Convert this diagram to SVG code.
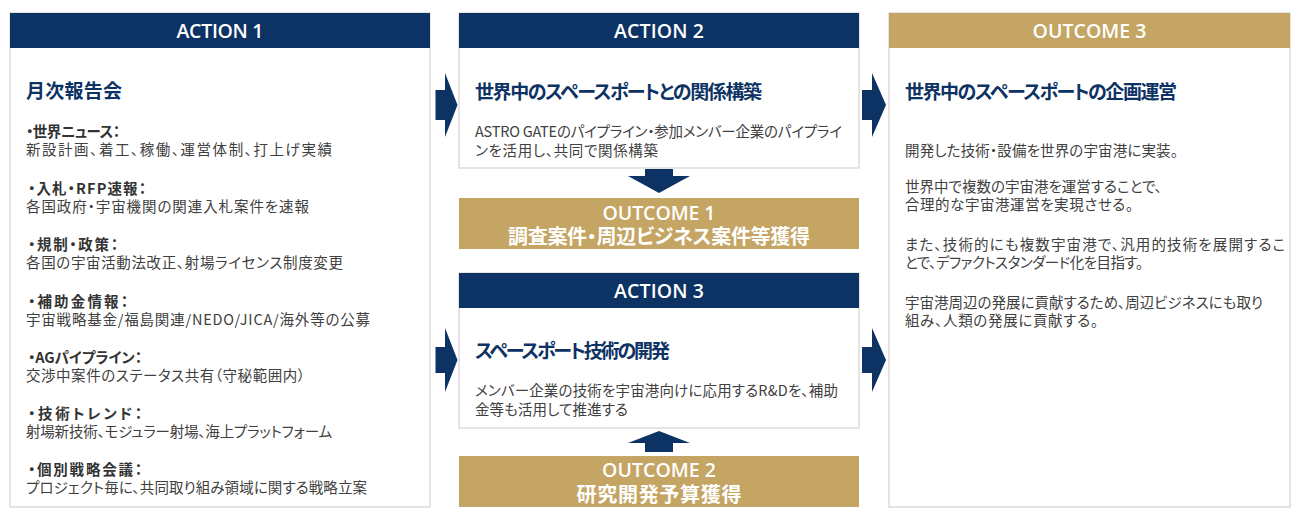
<svg xmlns="http://www.w3.org/2000/svg" width="1300" height="518" viewBox="0 0 1300 518">
<style>
.bg{fill:#ffffff}
.body{fill:#ffffff;stroke:#d2d2d2;stroke-width:1.2}
.navy{fill:#0d3264}
.gold{fill:#c4a563}
.hdr{font-family:"Open Sans","Noto Sans CJK JP",sans-serif;font-size:19.5px;font-weight:600;fill:#ffffff;text-anchor:middle}
.oc2{font-family:"Noto Sans CJK JP",sans-serif;font-size:20px;font-weight:700;fill:#ffffff;text-anchor:middle;font-feature-settings:"palt"}
.ttl{font-family:"Noto Sans CJK JP",sans-serif;font-size:19px;font-weight:700;fill:#0d3264;font-feature-settings:"palt"}
.bh{font-family:"Noto Sans CJK JP",sans-serif;font-size:14.5px;font-weight:700;fill:#333333;font-feature-settings:"palt"}
.tx{font-family:"Noto Sans CJK JP",sans-serif;font-size:14.5px;font-weight:400;fill:#404040;font-feature-settings:"palt"}
.arrow{fill:#0d3264}
</style>
<rect class="bg" x="0" y="0" width="1300" height="518"/>

<g id="action1">
<rect class="body" x="10" y="13" width="420" height="494"/>
<rect class="navy" x="10" y="13" width="420" height="35"/>
<text class="hdr" x="220" y="37.5" textLength="87">ACTION 1</text>
<text class="ttl" x="26" y="98" textLength="96">月次報告会</text>
<text class="bh" x="26" y="137" textLength="94">・世界ニュース：</text>
<text class="tx" x="26" y="155" textLength="306">新設計画、着工、稼働、運営体制、打上げ実績</text>
<text class="bh" x="28" y="193.5" textLength="118">・入札・RFP速報：</text>
<text class="tx" x="26" y="211.5" textLength="283">各国政府・宇宙機関の関連入札案件を速報</text>
<text class="bh" x="28" y="250" textLength="90">・規制・政策：</text>
<text class="tx" x="26" y="268" textLength="317">各国の宇宙活動法改正、射場ライセンス制度変更</text>
<text class="bh" x="28" y="306.5" textLength="100">・補助金情報：</text>
<text class="tx" x="26" y="324.5" textLength="344">宇宙戦略基金/福島関連/NEDO/JICA/海外等の公募</text>
<text class="bh" x="28" y="363" textLength="114">・AGパイプライン：</text>
<text class="tx" x="26" y="381" textLength="279">交渉中案件のステータス共有（守秘範囲内）</text>
<text class="bh" x="28" y="419" textLength="114">・技術トレンド：</text>
<text class="tx" x="26" y="437" textLength="306">射場新技術、モジュラー射場、海上プラットフォーム</text>
<text class="bh" x="28" y="475" textLength="114">・個別戦略会議：</text>
<text class="tx" x="26" y="493" textLength="341">プロジェクト毎に、共同取り組み領域に関する戦略立案</text>
</g>

<g id="action2">
<rect class="body" x="459" y="13" width="400" height="155"/>
<rect class="navy" x="459" y="13" width="400" height="35"/>
<text class="hdr" x="659" y="37.5" textLength="90">ACTION 2</text>
<text class="ttl" x="475" y="99" textLength="287">世界中のスペースポートとの関係構築</text>
<text class="tx" x="475" y="137" textLength="367">ASTRO GATEのパイプライン・参加メンバー企業のパイプライ</text>
<text class="tx" x="475" y="156" textLength="183">ンを活用し、共同で関係構築</text>
</g>

<g id="outcome1">
<rect class="gold" x="459" y="198" width="400" height="51"/>
<text class="hdr" x="659" y="219.5" textLength="113">OUTCOME 1</text>
<text class="oc2" x="659" y="244" textLength="302">調査案件・周辺ビジネス案件等獲得</text>
</g>

<g id="action3">
<rect class="body" x="459" y="273" width="400" height="155"/>
<rect class="navy" x="459" y="273" width="400" height="35"/>
<text class="hdr" x="659" y="297.5" textLength="90">ACTION 3</text>
<text class="ttl" x="475" y="358" textLength="195">スペースポート技術の開発</text>
<text class="tx" x="475" y="396" textLength="363">メンバー企業の技術を宇宙港向けに応用するR&amp;Dを、補助</text>
<text class="tx" x="475" y="415" textLength="153">金等も活用して推進する</text>
</g>

<g id="outcome2">
<rect class="gold" x="459" y="456" width="400" height="51"/>
<text class="hdr" x="659" y="476.5" textLength="114">OUTCOME 2</text>
<text class="oc2" x="659" y="501.5" textLength="165">研究開発予算獲得</text>
</g>

<g id="outcome3">
<rect class="body" x="889" y="13" width="401" height="494"/>
<rect class="gold" x="889" y="13" width="401" height="35"/>
<text class="hdr" x="1089.5" y="37.5" textLength="114">OUTCOME 3</text>
<text class="ttl" x="905" y="99" textLength="272">世界中のスペースポートの企画運営</text>
<text class="tx" x="905" y="156" textLength="273">開発した技術・設備を世界の宇宙港に実装。</text>
<text class="tx" x="905" y="192" textLength="257">世界中で複数の宇宙港を運営することで、</text>
<text class="tx" x="905" y="210" textLength="228">合理的な宇宙港運営を実現させる。</text>
<text class="tx" x="905" y="250" textLength="380">また、技術的にも複数宇宙港で、汎用的技術を展開するこ</text>
<text class="tx" x="905" y="268" textLength="238">とで、デファクトスタンダード化を目指す。</text>
<text class="tx" x="905" y="308" textLength="358">宇宙港周辺の発展に貢献するため、周辺ビジネスにも取り</text>
<text class="tx" x="905" y="326" textLength="193">組み、人類の発展に貢献する。</text>
</g>

<g id="connectors">
<path class="arrow" d="M435.5,90 H445 V73 L457.5,105 L445,137 V120 H435.5 Z"/>
<path class="arrow" d="M435.5,347 H445 V328 L457.5,360 L445,392 V373 H435.5 Z"/>
<path class="arrow" d="M862,90 H872 V73 L886,105 L872,137 V120 H862 Z"/>
<path class="arrow" d="M862,347 H872 V328 L886,360 L872,392 V373 H862 Z"/>
<path class="arrow" d="M645,169 H673 V176 H690 L659,193 L628,176 H645 Z"/>
<path class="arrow" d="M659,431 L690,443 H673 V452 H645 V443 H628 Z"/>
</g>
</svg>
